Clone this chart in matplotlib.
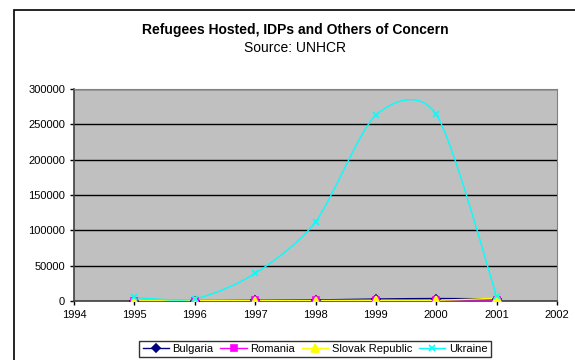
import matplotlib
matplotlib.use("Agg")
import matplotlib.pyplot as plt
from matplotlib.path import Path
from matplotlib.patches import PathPatch, Rectangle
from matplotlib.lines import Line2D

plt.rcParams['font.family'] = ['Liberation Sans', 'DejaVu Sans']

# data
years = [1995, 1996, 1997, 1998, 1999, 2000, 2001]
bulgaria = [500, 600, 800, 1500, 2800, 3500, 3000]
romania = [200, 200, 1000, 1200, 1500, 1800, 1500]
slovak = [300, 400, 500, 400, 800, 1000, 4000]
ukraine = [5000, 3000, 39000, 112000, 263000, 264000, 7000]

series_names = ['Bulgaria', 'Romania', 'Slovak Republic', 'Ukraine']
series_values = [bulgaria, romania, slovak, ukraine]
colors = ['#000080', '#FF00FF', '#FFFF00', '#00FFFF']
markers = ['D', 's', '^', 'x']
msizes = [4, 4, 6, 5]


# Excel style smoothed line: catmull-rom style tangents turned into cubic bezier segments
def smooth_path(xs, ys, k=0.137):
    verts = [(xs[0], ys[0])]
    codes = [Path.MOVETO]
    n = len(xs)
    for i in range(n - 1):
        p0 = (xs[max(i - 1, 0)], ys[max(i - 1, 0)])
        p1 = (xs[i], ys[i])
        p2 = (xs[i + 1], ys[i + 1])
        p3 = (xs[min(i + 2, n - 1)], ys[min(i + 2, n - 1)])
        c1 = (p1[0] + (p2[0] - p0[0]) * k, p1[1] + (p2[1] - p0[1]) * k)
        c2 = (p2[0] - (p3[0] - p1[0]) * k, p2[1] - (p3[1] - p1[1]) * k)
        verts += [c1, c2, p2]
        codes += [Path.CURVE4] * 3
    return Path(verts, codes)


fig = plt.figure(figsize=(5.75, 3.6), dpi=100)
# outer chart border (runs off the right and bottom edge)
fig.patches.append(Rectangle((14 / 575, -0.1), 1.0, 1.1 - 10 / 360, transform=fig.transFigure,
                             fill=False, edgecolor='black', linewidth=1.2))

ax = fig.add_axes([74 / 575, 1 - 301 / 360, (557 - 74) / 575, (301 - 89) / 360])
ax.set_facecolor('#C0C0C0')

handles = []
for name, vals, c, m, ms in zip(series_names, series_values, colors, markers, msizes):
    ax.add_patch(PathPatch(smooth_path(years, vals), fill=False, edgecolor=c, linewidth=1.0, zorder=3))
    ax.plot(years, vals, linestyle='none', marker=m, color=c, markersize=ms,
            markeredgewidth=1.2, zorder=4)
    handles.append(Line2D([], [], color=c, marker=m, markersize=ms, markeredgewidth=1.2, linewidth=1.0))

ax.set_xlim(1994, 2002)
ax.set_ylim(0, 300000)
ax.set_xticks(range(1994, 2003))
ax.set_yticks(range(0, 300001, 50000))
ax.yaxis.grid(True, color='black', linewidth=1.0)
ax.set_axisbelow(True)
ax.tick_params(labelsize=8, length=3, width=1, colors='black')
for s in ['top', 'right']:
    ax.spines[s].set_color('#808080')
for s in ['left', 'bottom']:
    ax.spines[s].set_color('#404040')
    ax.spines[s].set_linewidth(1.2)

fig.text(295 / 575, 1 - 30 / 360, 'Refugees Hosted, IDPs and Others of Concern', ha='center', va='center',
         fontsize=10, fontweight='bold')
fig.text(295 / 575, 1 - 48 / 360, 'Source: UNHCR', ha='center', va='center', fontsize=10)

leg = fig.legend(handles, series_names, loc='center', bbox_to_anchor=(315 / 575, 1 - 349 / 360),
                 ncol=4, fontsize=8, frameon=True, fancybox=False, handlelength=2.4,
                 handletextpad=0.3, columnspacing=0.6, borderpad=0.3)
leg.get_frame().set_edgecolor('black')
leg.get_frame().set_linewidth(1.0)

fig.savefig('out.png', dpi=100)
